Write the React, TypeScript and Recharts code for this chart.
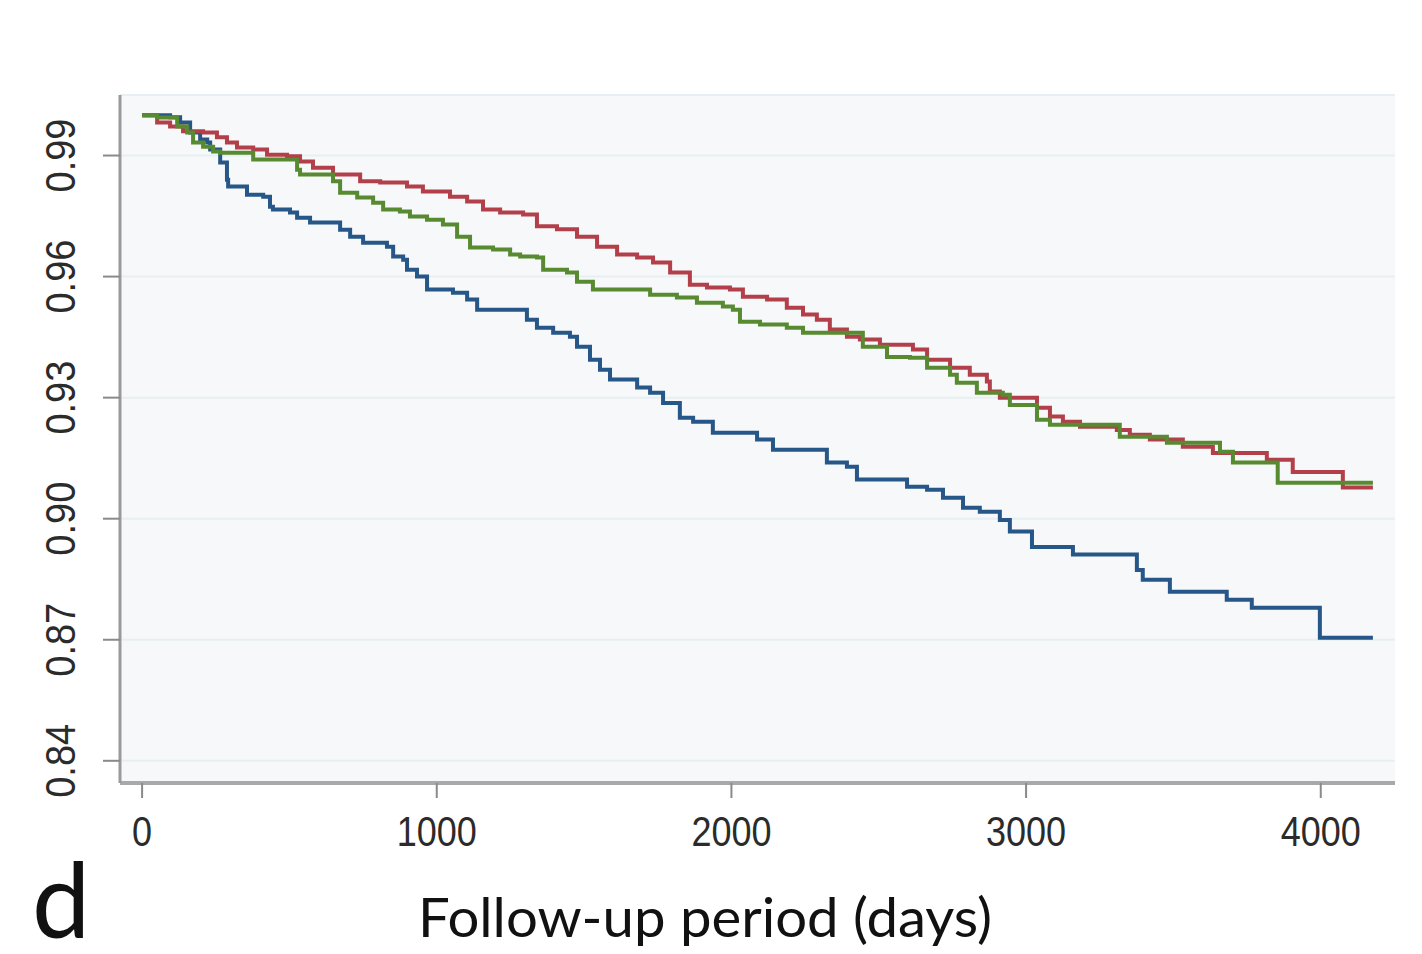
import { LineChart, Line, XAxis, YAxis, CartesianGrid } from "recharts";

// survival estimates: [day, survival]
const blueSteps: [number, number][] = [
    [0, 1.0], [95, 0.9995], [129, 0.9982], [163, 0.9957], [197, 0.994], [221, 0.9932],
    [231, 0.9915], [265, 0.9883], [288, 0.984], [292, 0.9823], [356, 0.9803], [411, 0.9798],
    [434, 0.9773], [444, 0.9766], [502, 0.9759], [526, 0.9746], [570, 0.9734], [672, 0.9716],
    [706, 0.9699], [750, 0.9684], [831, 0.9674], [852, 0.965], [886, 0.9642], [899, 0.9617],
    [933, 0.96], [967, 0.9568], [1055, 0.956], [1103, 0.9543], [1137, 0.9518], [1306, 0.9493],
    [1340, 0.9473], [1395, 0.9461], [1452, 0.9451], [1476, 0.9426], [1520, 0.9394],
    [1554, 0.9369], [1588, 0.9345], [1680, 0.9325], [1724, 0.9312], [1768, 0.9287],
    [1825, 0.925], [1870, 0.924], [1937, 0.9213], [2087, 0.9196], [2141, 0.9171],
    [2324, 0.9139], [2392, 0.9129], [2426, 0.9097], [2596, 0.9079], [2664, 0.9072],
    [2718, 0.9052], [2786, 0.9027], [2843, 0.9017], [2911, 0.8997], [2945, 0.8968],
    [3020, 0.893], [3159, 0.8911], [3376, 0.8873], [3396, 0.8849], [3488, 0.8819],
    [3681, 0.8799], [3766, 0.8779], [3997, 0.8705], [4177, 0.8705],
];

const redSteps: [number, number][] = [
    [0, 1.0], [51, 0.9982], [95, 0.9972], [139, 0.996], [207, 0.9957], [254, 0.9945],
    [288, 0.9932], [322, 0.992], [377, 0.9915], [424, 0.9902], [492, 0.9898], [536, 0.9885],
    [580, 0.987], [648, 0.9853], [740, 0.9836], [808, 0.9833], [899, 0.9823], [953, 0.9811],
    [1045, 0.9798], [1103, 0.9786], [1157, 0.9766], [1215, 0.9759], [1293, 0.9754],
    [1340, 0.9725], [1408, 0.9717], [1476, 0.9699], [1544, 0.9674], [1612, 0.9655],
    [1680, 0.9647], [1734, 0.9635], [1792, 0.961], [1859, 0.958], [1917, 0.9573],
    [1995, 0.9568], [2039, 0.955], [2121, 0.9543], [2188, 0.9523], [2243, 0.9506],
    [2290, 0.9493], [2334, 0.9469], [2392, 0.9451], [2436, 0.9444], [2504, 0.9431],
    [2616, 0.9419], [2664, 0.9394], [2742, 0.9374], [2809, 0.9357], [2867, 0.934],
    [2877, 0.9315], [2911, 0.93], [3037, 0.9275], [3081, 0.9253], [3125, 0.924],
    [3183, 0.9228], [3308, 0.922], [3352, 0.9208], [3420, 0.9196], [3532, 0.9178],
    [3634, 0.9163], [3817, 0.9146], [3905, 0.9116], [4075, 0.9077], [4177, 0.9077],
];

const greenSteps: [number, number][] = [
    [0, 1.0], [51, 0.9994], [119, 0.9972], [153, 0.9957], [173, 0.9932], [207, 0.9922],
    [241, 0.991], [265, 0.9907], [377, 0.989], [526, 0.9865], [536, 0.9853], [648, 0.9836],
    [672, 0.9808], [730, 0.9796], [784, 0.9783], [818, 0.9766], [875, 0.9761], [909, 0.9749],
    [967, 0.9741], [1021, 0.9729], [1069, 0.9699], [1113, 0.9672], [1191, 0.9667],
    [1249, 0.9655], [1283, 0.965], [1340, 0.9647], [1361, 0.9617], [1442, 0.961],
    [1476, 0.9587], [1530, 0.9568], [1724, 0.9555], [1815, 0.9548], [1883, 0.9535],
    [1971, 0.9526], [2005, 0.9518], [2029, 0.9488], [2097, 0.9481], [2188, 0.9473],
    [2243, 0.9461], [2446, 0.9426], [2528, 0.9401], [2606, 0.9399], [2664, 0.9374],
    [2742, 0.9357], [2765, 0.9337], [2833, 0.9312], [2921, 0.9307], [2945, 0.9282],
    [3037, 0.9245], [3081, 0.9233], [3318, 0.9203], [3478, 0.9188], [3658, 0.9166],
    [3702, 0.9139], [3854, 0.9089], [4177, 0.9089],
];

const xTicks = [0, 1000, 2000, 3000, 4000];
const yTicks = [0.84, 0.87, 0.9, 0.93, 0.96, 0.99];

const toRows = (steps: [number, number][]) => steps.map(([t, s]) => ({ t, s }));

const XTick = (props: any) => {
    const { x, y, payload } = props;
    return (
        <g transform={`translate(${x},${y + 46}) scale(1,1.16)`}>
            <text textAnchor="middle" fontFamily="Liberation Sans, Arial" fontSize={36} fill="#2b2b2b">
                {payload.value}
            </text>
        </g>
    );
};

const YTick = (props: any) => {
    const { x, y, payload } = props;
    return (
        <g transform={`translate(${x - 26},${y}) rotate(-90) scale(1,1.1)`}>
            <text textAnchor="middle" fontFamily="Liberation Sans, Arial" fontSize={38} fill="#2b2b2b">
                {Number(payload.value).toFixed(2)}
            </text>
        </g>
    );
};

export default function App() {
    return (
        <div style={{ position: "absolute", left: 0, top: 0, width: 1422, height: 954, background: "#fff" }}>
            <LineChart width={1422} height={954} margin={{ top: 95, right: 27, left: 0, bottom: 0 }}>
                <CartesianGrid vertical={false} fill="#f6f8f9" stroke="#e8eff2" strokeWidth={2} />
                <XAxis
                    type="number"
                    dataKey="t"
                    domain={[-75, 4252]}
                    ticks={xTicks}
                    allowDataOverflow
                    height={171}
                    tickSize={15}
                    axisLine={{ stroke: "#a9a9a9", strokeWidth: 4 }}
                    tickLine={{ stroke: "#8a8a8a", strokeWidth: 2 }}
                    tick={XTick}
                />
                <YAxis
                    type="number"
                    domain={[0.8345, 1.005]}
                    ticks={yTicks}
                    allowDataOverflow
                    width={120}
                    tickSize={17}
                    axisLine={{ stroke: "#9a9a9a", strokeWidth: 3 }}
                    tickLine={{ stroke: "#8a8a8a", strokeWidth: 2 }}
                    tick={YTick}
                />
                <Line data={toRows(blueSteps)} dataKey="s" type="stepAfter" stroke="#275788" strokeWidth={4} dot={false} isAnimationActive={false} />
                <Line data={toRows(redSteps)} dataKey="s" type="stepAfter" stroke="#b23f4a" strokeWidth={4} dot={false} isAnimationActive={false} />
                <Line data={toRows(greenSteps)} dataKey="s" type="stepAfter" stroke="#588a31" strokeWidth={4} dot={false} isAnimationActive={false} />
                <text x={32} y={938} fontFamily="Lato, Open Sans" fontSize={104} fill="#111">d</text>
                <text
                    x={418}
                    y={937}
                    fontFamily="Lato, Open Sans"
                    fontSize={54}
                    fill="#111"
                    textLength={574}
                    lengthAdjust="spacingAndGlyphs"
                >
                    Follow-up period (days)
                </text>
            </LineChart>
        </div>
    );
}
